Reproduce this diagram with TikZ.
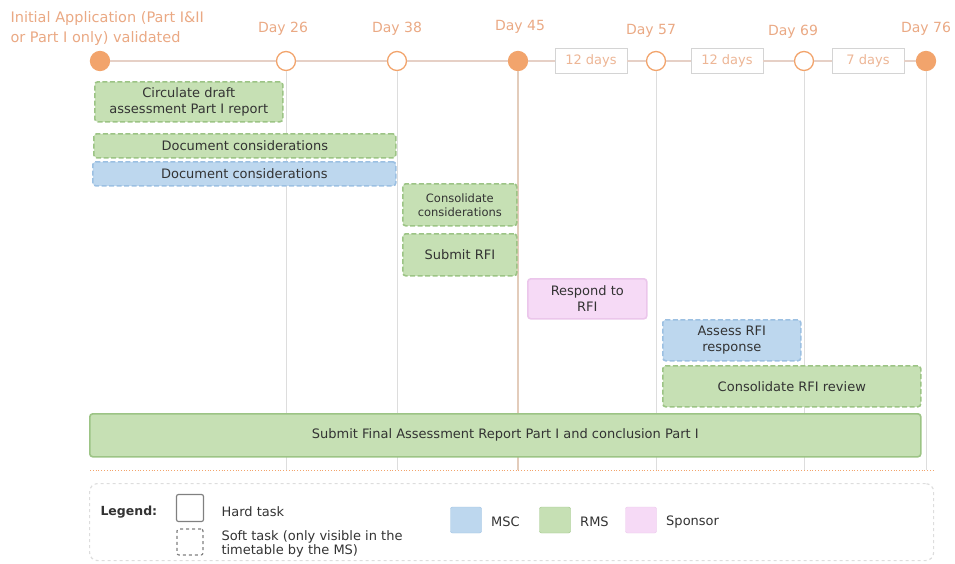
\documentclass[tikz,border=0pt]{standalone}
\usepackage{fontspec}
\setmainfont{DejaVu Sans}
\usetikzlibrary{positioning}

\definecolor{dayorange}{HTML}{F2A46C}
\definecolor{daytext}{HTML}{EAA984}
\definecolor{axisline}{HTML}{E6D0C6}
\definecolor{linegray}{HTML}{DDDDDD}
\definecolor{spangray}{HTML}{D4D4D4}
\definecolor{rmsfill}{HTML}{C6E0B4}
\definecolor{rmsline}{HTML}{9CC485}
\definecolor{mscfill}{HTML}{BDD7EE}
\definecolor{mscline}{HTML}{9CC0E2}
\definecolor{spofill}{HTML}{F6DAF6}
\definecolor{spoline}{HTML}{EBC6EB}
\definecolor{tasktext}{HTML}{333333}

\tikzset{
  milestone/.style={circle, draw=dayorange, line width=1.3pt, minimum size=19pt, inner sep=0pt, fill=white},
  keymilestone/.style={milestone, fill=dayorange},
  daylabel/.style={font=\fontsize{14}{16}\selectfont, text=daytext},
  spanbox/.style={draw=spangray, line width=0.8pt, fill=white, minimum width=72pt, minimum height=25pt, inner sep=0pt, font=\fontsize{13}{15}\selectfont, text=daytext!85},
  guide/.style={draw=linegray, line width=0.8pt},
  task/.style={rectangle, rounded corners=3pt, line width=1.6pt, anchor=north west, align=center, inner sep=1pt, text=tasktext, font=\fontsize{13}{15.5}\selectfont},
  soft/.style={task, dash pattern=on 5pt off 2.5pt},
  rms/.style={fill=rmsfill, draw=rmsline},
  msc/.style={fill=mscfill, draw=mscline},
  spo/.style={fill=spofill, draw=spoline},
  keybox/.style={rounded corners=2pt, minimum width=31pt, minimum height=26pt},
  legtext/.style={anchor=west, align=left, text=tasktext, font=\fontsize{13}{14}\selectfont},
}

\begin{document}
\begin{tikzpicture}[x=1pt, y=-1pt]
  \useasboundingbox (0,0) rectangle (955,563);

  % Timeline
  \node[keymilestone] (m0) at (100,61) {};
  \node[milestone] (m1) at (286,61) {};
  \node[milestone] (m2) at (397,61) {};
  \node[keymilestone] (m3) at (518,61) {};
  \node[milestone] (m4) at (656,61) {};
  \node[milestone] (m5) at (804,61) {};
  \node[keymilestone] (m6) at (926,61) {};
  \node[spanbox] (s1) at (591,61) {12 days};
  \node[spanbox] (s2) at (727,61) {12 days};
  \node[spanbox] (s3) at (868,61) {7 days};
  \draw[draw=axisline, line width=1.5pt] (m0) -- (m1) -- (m2) -- (m3) -- (s1) -- (m4) -- (s2) -- (m5) -- (s3) -- (m6);

  % Labels
  \node[daylabel, anchor=north west, align=left, font=\fontsize{14.5}{20}\selectfont] (init) at (7,8) {Initial Application (Part I\&II\\or Part I only) validated};
  \node[daylabel, above=12pt of m1, xshift=-3pt] (d26) {Day 26};
  \node[daylabel, above=12pt of m2] (d38) {Day 38};
  \node[daylabel, above=14pt of m3, xshift=2pt] (d45) {Day 45};
  \node[daylabel, above=10pt of m4, xshift=-5pt] (d57) {Day 57};
  \node[daylabel, above=9pt of m5, xshift=-11pt] (d69) {Day 69};
  \node[daylabel, above=12pt of m6] (d76) {Day 76};

  % Guides
  \coordinate (bot) at (0,470);
  \foreach \m in {m1,m2,m4,m5,m6}
    \draw[guide] (\m.south) -- (\m.south |- bot);
  \draw[draw=dayorange!30!linegray, line width=1.8pt] (m3.south) -- (m3.south |- bot);
  \draw[draw=dayorange, line width=0.8pt, dotted] (90,470) -- (935,470);

  % Tasks
  \node[soft, rms, minimum width=188pt, minimum height=40pt] (circ) at (94,81) {Circulate draft\\assessment Part I report};
  \node[soft, rms, minimum width=302pt, minimum height=24pt] (docr) at (93,133) {Document considerations};
  \node[soft, msc, minimum width=303pt, minimum height=24pt] (docm) at (92,161) {Document considerations};
  \node[soft, rms, minimum width=114pt, minimum height=42pt, font=\fontsize{11.5}{14}\selectfont] (cons) at (402,183) {Consolidate\\considerations};
  \node[soft, rms, minimum width=114pt, minimum height=42pt] (rfi) at (402,233) {Submit RFI};
  \node[task, spo, minimum width=119pt, minimum height=40pt] (resp) at (527,278) {Respond to\\RFI};
  \node[soft, msc, minimum width=138pt, minimum height=41pt] (asse) at (662,319) {Assess RFI\\response};
  \node[soft, rms, minimum width=258pt, minimum height=41pt] (crev) at (662,365) {Consolidate RFI review};
  \node[task, rms, minimum width=831pt, minimum height=43pt] (final) at (89,413) {Submit Final Assessment Report Part I and conclusion Part I};

  % Legend
  \node[draw=linegray, line width=1.2pt, dashed, rounded corners=8pt, anchor=north west, minimum width=844pt, minimum height=77pt] (leg) at (89,483) {};
  \node[legtext, font=\bfseries\fontsize{12.5}{15}\selectfont] (legl) at (97,512) {Legend:};
  \node[draw=gray, line width=1.2pt, rounded corners=2pt, minimum size=27pt] (hard) at (190,508) {};
  \node[legtext] (hardt) at (218,512) {Hard task};
  \node[draw=gray, line width=1.2pt, dashed, rounded corners=2pt, minimum size=26pt] (softk) at (190,542) {};
  \node[legtext] (softt) at (218,544) {Soft task (only visible in the\\timetable by the MS)};
  \node[keybox, fill=mscfill, draw=mscline] (kmsc) at (466,520) {};
  \node[legtext, right=6pt of kmsc, yshift=-2pt] (kmsct) {MSC};
  \node[keybox, fill=rmsfill, draw=rmsline] (krms) at (555,520) {};
  \node[legtext, right=6pt of krms, yshift=-2pt] (krmst) {RMS};
  \node[keybox, fill=spofill, draw=spoline] (kspo) at (641,520) {};
  \node[legtext, right=6pt of kspo, yshift=-2pt] (kspot) {Sponsor};
\end{tikzpicture}
\end{document}
